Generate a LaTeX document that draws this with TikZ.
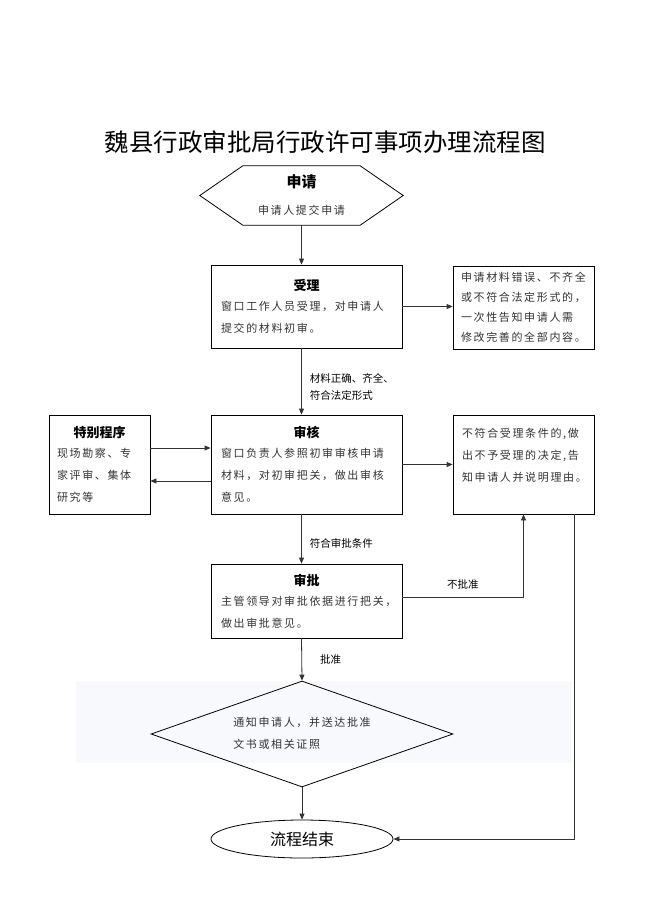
\documentclass[tikz,border=0pt]{standalone}
\usepackage{fontspec}
\usepackage{xcolor}
\usetikzlibrary{positioning}
\usetikzlibrary{arrows.meta}
\usetikzlibrary{shapes.geometric}
\setmainfont{Noto Sans CJK SC}
\newfontfamily\cjkbody[LetterSpace=15]{Noto Sans CJK SC}
\setlength{\parindent}{0pt}
\definecolor{bodygray}{HTML}{333333}
\definecolor{bandblue}{HTML}{F7F9FD}
\newcommand{\boxhead}[1]{\makebox[\hsize][c]{\color{black}\normalfont\bfseries\fontsize{13}{22}\selectfont #1}\\[-2pt]}
\tikzset{flowbox/.style={draw, line width=0.8pt, rectangle, inner sep=0pt, align=left,
  font=\cjkbody\fontsize{11}{22}\selectfont, text=bodygray},
  flowarrow/.style={-{Triangle[length=6pt,width=5pt]}, line width=0.8pt, draw=black!80},
  flowline/.style={line width=0.8pt},
  edgelabel/.style={font=\fontsize{10.5}{17}\selectfont, align=left, inner sep=0pt}}

\begin{document}
\begin{tikzpicture}[x=1pt, y=-1pt]
\useasboundingbox (0,0) rectangle (650,919);
% title
\node (title) at (325,142) {\fontsize{24.5}{30}\selectfont 魏县行政审批局行政许可事项办理流程图};
% start
\node[minimum width=203, minimum height=59, inner sep=0pt, align=center,
  font=\fontsize{15}{22}\selectfont] (apply) at (301.5,195.5)
  {\textbf{申请}\\[5pt]{\cjkbody\fontsize{11}{22}\selectfont\color{bodygray}申请人提交申请}};
\draw[flowline] (apply.west) -- ([xshift=43pt]apply.north west) -- ([xshift=-43pt]apply.north east)
  -- (apply.east) -- ([xshift=-43pt]apply.south east) -- ([xshift=43pt]apply.south west) -- cycle;
% boxes
\node[flowbox, minimum width=191, minimum height=83, text width=171] (accept) at (306.5,306.5)
  {\boxhead{受理}窗口工作人员受理，对申请人\\提交的材料初审。};
\node[flowbox, minimum width=141, minimum height=83, text width=125, font=\cjkbody\fontsize{11}{20}\selectfont] (faults) at (523.5,307.5)
  {申请材料错误、不齐全\\或不符合法定形式的，\\一次性告知申请人需\\修改完善的全部内容。};
\node[flowbox, minimum width=101, minimum height=99, text width=85] (special) at (99.5,464.5)
  {\boxhead{特别程序}现场勘察、专\\家评审、集体\\研究等};
\node[flowbox, minimum width=191, minimum height=99, text width=171] (review) at (306.5,464.5)
  {\boxhead{审核}窗口负责人参照初审审核申请\\材料，对初审把关，做出审核\\意见。};
\node[flowbox, minimum width=141, minimum height=99, text width=123] (refuse) at (523.5,464.5)
  {不符合受理条件的,做\\出不予受理的决定,告\\知申请人并说明理由。\par\vspace{19pt}};
\node[flowbox, minimum width=191, minimum height=74, text width=171] (approve) at (306.5,601)
  {\boxhead{审批}主管领导对审批依据进行把关，\\做出审批意见。};
% notice
\fill[bandblue] (76,681) rectangle (572,763);
\node[draw, diamond, line width=0.8pt, inner sep=0pt, minimum width=302, minimum height=106] (notice) at (302,734) {};
\node[align=left, inner sep=0pt, font=\cjkbody\fontsize{11}{22}\selectfont, text=bodygray] (noticetext) at (302,733)
  {通知申请人，并送达批准\\文书或相关证照};
\node[draw, ellipse, line width=0.8pt, inner sep=0pt, minimum width=182, minimum height=38,
  font=\fontsize{16}{20}\selectfont] (finish) at (302,839) {流程结束};
% connectors
\draw[flowarrow] (apply.south) -- (apply.south |- accept.north);
\draw[flowarrow] (accept.east) -- (accept.east -| faults.west);
\draw[flowarrow] (accept.south -| apply.south) -- (review.north -| apply.south)
  node[edgelabel, pos=0.5, anchor=west, xshift=8pt, yshift=-5pt] (oklabel) {材料正确、齐全、\\符合法定形式};
\draw[flowarrow] ([yshift=16.5pt]special.east) -- ([yshift=16.5pt]special.east -| review.west);
\draw[flowarrow] ([yshift=-16.5pt]review.west) -- ([yshift=-16.5pt]review.west -| special.east);
\draw[flowarrow] (review.east) -- (refuse.west);
\draw[flowarrow] (review.south -| apply.south) -- (approve.north -| apply.south)
  node[edgelabel, pos=0.5, anchor=west, xshift=8pt, yshift=-4pt] (passlabel) {符合审批条件};
\draw[flowarrow] ([yshift=4pt]approve.east) -| node[edgelabel, pos=0.25, above=7pt] (nolabel) {不批准} (refuse.south);
\draw[flowarrow] (approve.south -| apply.south) -- (notice.north)
  node[edgelabel, pos=0.5, anchor=west, xshift=18pt] (yeslabel) {批准};
\draw[flowarrow] (notice.south) -- (finish.north);
\draw[flowarrow] ([xshift=50.5pt]refuse.south) |- (finish.east);
\end{tikzpicture}
\end{document}
